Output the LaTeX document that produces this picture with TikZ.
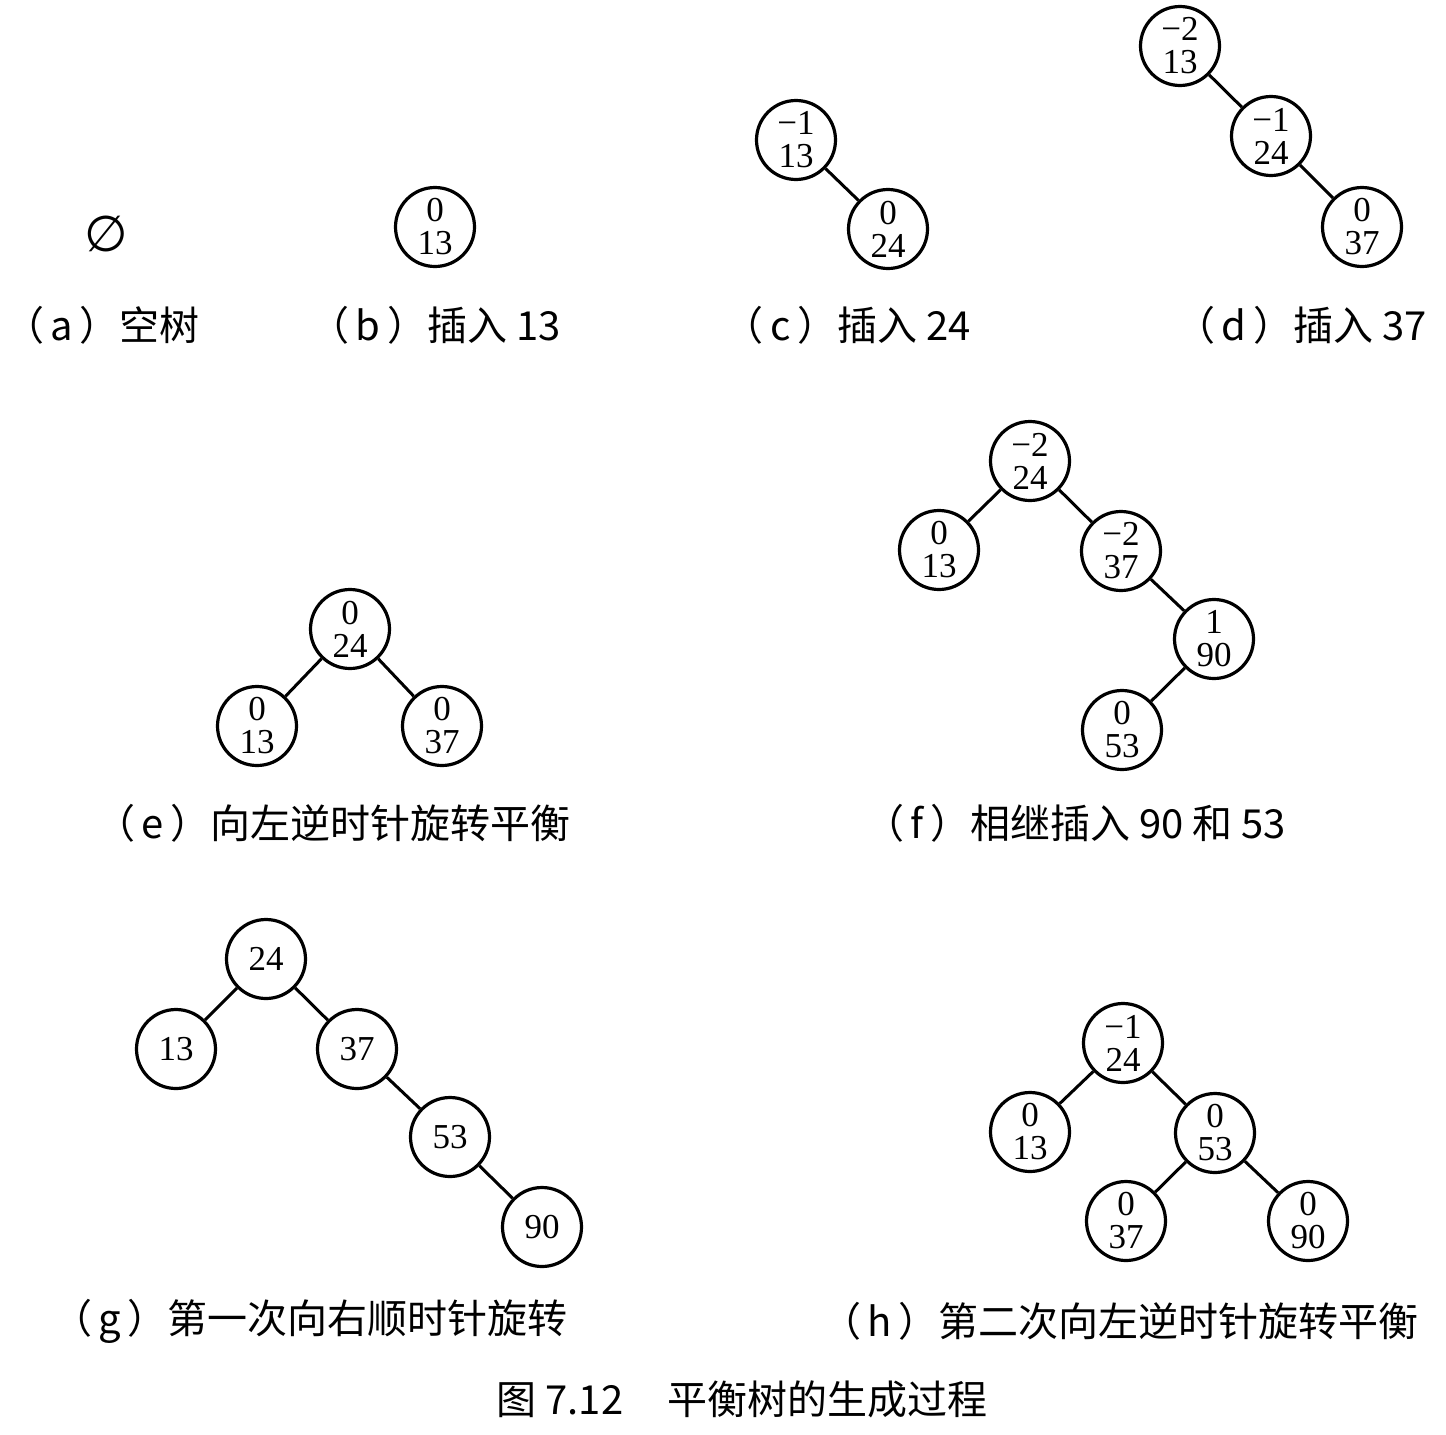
\documentclass[tikz,border=0pt]{standalone}
\usepackage{fontspec}
\setmainfont{Liberation Serif}
\newfontfamily\cjk{Noto Sans CJK SC}
\newfontfamily\symfont{DejaVu Sans}
\begin{document}
\begin{tikzpicture}[x=1pt,y=-1pt,
  avl/.style={circle, draw, line width=3.2pt, minimum size=79pt, inner sep=0pt,
    align=center, font=\fontsize{35}{33}\selectfont},
  edge/.style={line width=3pt},
  captext/.style={font=\cjk\fontsize{40}{42}\selectfont, inner sep=0pt}]
\useasboundingbox (0,0) rectangle (1446,1435);
\fill[white] (0,0) rectangle (1446,1435);

% (a)
\node[font=\symfont\fontsize{50}{50}\selectfont, inner sep=0pt] (empty) at (106,234) {∅};
\node[captext] (capa) at (102,325) {（\,a\,）空树};

% (b)
\node[avl] (b13) at (435,227) {0\\13};
\node[captext] (capb) at (435,325) {（\,b\,）插入 13};

% (c)
\node[avl] (c13) at (796,140) {−1\\13};
\node[avl] (c24) at (888,229) {0\\24};
\draw[edge] (c13) -- (c24);
\node[captext] (capc) at (847,325) {（\,c\,）插入 24};

% (d)
\node[avl] (d13) at (1180,46) {−2\\13};
\node[avl] (d24) at (1271,136) {−1\\24};
\node[avl] (d37) at (1362,227) {0\\37};
\draw[edge] (d13) -- (d24);
\draw[edge] (d24) -- (d37);
\node[captext] (capd) at (1301,325) {（\,d\,）插入 37};

% (e)
\node[avl] (e24) at (350,629) {0\\24};
\node[avl] (e13) at (257,726) {0\\13};
\node[avl] (e37) at (442,726) {0\\37};
\draw[edge] (e24) -- (e13);
\draw[edge] (e24) -- (e37);
\node[captext] (cape) at (333,823) {（\,e\,）向左逆时针旋转平衡};

% (f)
\node[avl] (f24) at (1030,461) {−2\\24};
\node[avl] (f13) at (939,550) {0\\13};
\node[avl] (f37) at (1121,551) {−2\\37};
\node[avl] (f90) at (1214,639) {1\\90};
\node[avl] (f53) at (1122,730) {0\\53};
\draw[edge] (f24) -- (f13);
\draw[edge] (f24) -- (f37);
\draw[edge] (f37) -- (f90);
\draw[edge] (f90) -- (f53);
\node[captext] (capf) at (1075,823) {（\,f\,）相继插入 90 和 53};

% (g)
\node[avl] (g24) at (266,959) {24};
\node[avl] (g13) at (176,1049) {13};
\node[avl] (g37) at (357,1049) {37};
\node[avl] (g53) at (450,1137) {53};
\node[avl] (g90) at (542,1227) {90};
\draw[edge] (g24) -- (g13);
\draw[edge] (g24) -- (g37);
\draw[edge] (g37) -- (g53);
\draw[edge] (g53) -- (g90);
\node[captext] (capg) at (310,1321) {（\,g\,）第一次向右顺时针旋转};

% (h)
\node[avl] (h24) at (1123,1043) {−1\\24};
\node[avl] (h13) at (1030,1132) {0\\13};
\node[avl] (h53) at (1215,1133) {0\\53};
\node[avl] (h37) at (1126,1221) {0\\37};
\node[avl] (h90) at (1308,1221) {0\\90};
\draw[edge] (h24) -- (h13);
\draw[edge] (h24) -- (h53);
\draw[edge] (h53) -- (h37);
\draw[edge] (h53) -- (h90);
\node[captext] (caph) at (1120,1321) {（\,h\,）第二次向左逆时针旋转平衡};

% title
\node[captext] (title) at (742,1399) {图 7.12\hspace{44pt}平衡树的生成过程};
\end{tikzpicture}
\end{document}
